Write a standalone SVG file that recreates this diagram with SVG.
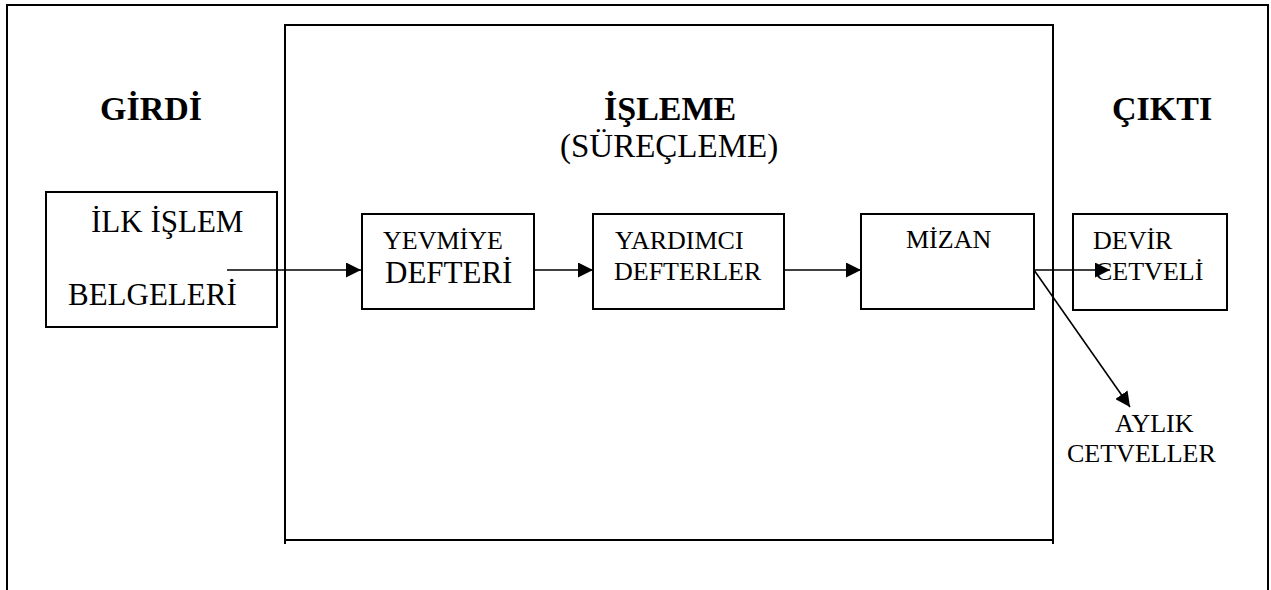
<svg xmlns="http://www.w3.org/2000/svg" width="1271" height="590" viewBox="0 0 1271 590">
<defs>
<marker id="ah" markerUnits="userSpaceOnUse" markerWidth="15" markerHeight="15" refX="14" refY="7" orient="auto" viewBox="0 0 14 14">
<path d="M0,0 L14,7 L0,14 z" fill="#000"/>
</marker>
<style>
.t{font-family:"Liberation Serif","Times New Roman",serif;fill:#000}
.h{font-size:34px;font-weight:bold}
.s{font-size:26px}
.frame{fill:none;stroke:#000;stroke-width:2}
.box{fill:#fff;stroke:#000;stroke-width:2}
.c{stroke:#000;stroke-width:1.6;fill:none;marker-end:url(#ah)}
</style>
</defs>
<rect width="1271" height="590" fill="#fff"/>
<g id="outer-frame">
<path class="frame" d="M7,590 V5 H1268 V590" stroke-width="2.5"/>
</g>
<g id="processing-area">
<path class="frame" d="M285,544 V25 H1053 V544 M285,540 H1053"/>
<text class="t h" x="604" y="120">İŞLEME</text>
<text class="t" x="560" y="157" font-size="33">(SÜREÇLEME)</text>
</g>
<g id="input-label"><text class="t h" x="100" y="120">GİRDİ</text></g>
<g id="output-label"><text class="t h" x="1112" y="120">ÇIKTI</text></g>
<g id="ilk-islem">
<rect class="box" x="46" y="192" width="231" height="135"/>
<text class="t" x="91" y="232" font-size="31">İLK İŞLEM</text>
<text class="t" x="68" y="305" font-size="31">BELGELERİ</text>
</g>
<g id="yevmiye">
<rect class="box" x="362" y="214" width="172" height="95"/>
<text class="t s" x="383" y="249">YEVMİYE</text>
<text class="t" x="385" y="283" font-size="31">DEFTERİ</text>
</g>
<g id="yardimci">
<rect class="box" x="593" y="214" width="191" height="95"/>
<text class="t s" x="615" y="249">YARDIMCI</text>
<text class="t s" x="614" y="280">DEFTERLER</text>
</g>
<g id="mizan">
<rect class="box" x="861" y="214" width="173" height="95"/>
<text class="t s" x="906" y="248">MİZAN</text>
</g>
<g id="devir">
<rect class="box" x="1073" y="214" width="154" height="96"/>
<text class="t s" x="1093" y="249">DEVİR</text>
<text class="t s" x="1095" y="280">CETVELİ</text>
</g>
<g id="aylik">
<text class="t s" x="1115" y="432">AYLIK</text>
<text class="t s" x="1067" y="462">CETVELLER</text>
</g>
<g id="connectors">
<line class="c" x1="227" y1="270" x2="361" y2="270"/>
<line class="c" x1="534" y1="270" x2="593" y2="270"/>
<line class="c" x1="784" y1="270" x2="861" y2="270"/>
<line class="c" x1="1034" y1="270" x2="1110" y2="270"/>
<line class="c" x1="1034" y1="270" x2="1130" y2="407"/>
</g>
</svg>
